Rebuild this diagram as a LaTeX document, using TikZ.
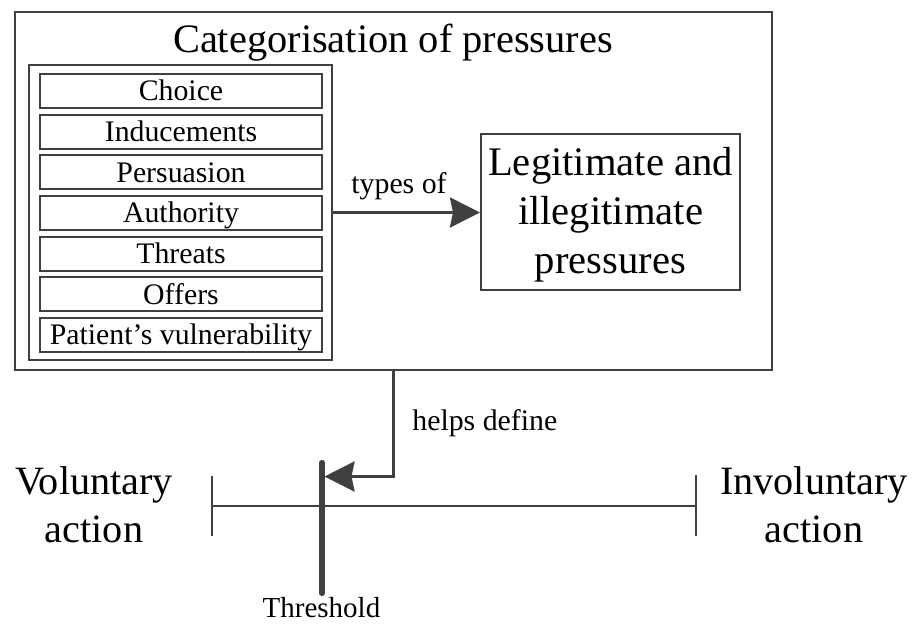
\documentclass[tikz,border=0pt]{standalone}
\usepackage{fontspec}
\setmainfont{Liberation Serif}
\usetikzlibrary{arrows.meta}
\definecolor{linegray}{RGB}{64,64,64}
\tikzset{
  frame/.style={draw=linegray, line width=1pt, inner sep=0pt},
  item/.style={frame, minimum width=141pt, minimum height=17pt,
    text height=11.2pt, text depth=1.35pt,
    font=\fontsize{14.9}{17.9}\selectfont},
  small/.style={inner sep=0pt, font=\fontsize{14.9}{17.9}\selectfont},
  big/.style={inner sep=0pt, align=center, font=\fontsize{20.2}{24}\selectfont},
  conn/.style={draw=linegray, line width=1.5pt,
    -{Stealth[length=15pt, width=15pt, inset=1.5pt]}},
  axis/.style={draw=linegray, line width=1pt}
}
\begin{document}
\begin{tikzpicture}[x=0.5pt, y=-0.5pt]
\useasboundingbox (0,0) rectangle (914,623);

% outer frame and its title
\node[frame, minimum width=378.5pt, minimum height=179pt] (outer) at (393.5,191) {};
\node[big, anchor=base] (title) at (393,52) {Categorisation of pressures};

% list of pressure categories
\node[frame, minimum width=151.5pt, minimum height=147.5pt] (list) at (180.5,212.5) {};
\node[item] (choice) at (181,91) {Choice};
\node[item] (induce) at (181,131.7) {Inducements};
\node[item] (persu)  at (181,172.3) {Persuasion};
\node[item] (auth)   at (181,213) {Authority};
\node[item] (threat) at (181,253.7) {Threats};
\node[item] (offer)  at (181,294.3) {Offers};
\node[item] (vuln)   at (181,335) {Patient’s vulnerability};

% legitimate / illegitimate box (base anchor sits on the last line)
\node[frame, minimum width=129.5pt, minimum height=78pt] (legit) at (610.5,212) {};
\node[big, font=\fontsize{20.3}{24.5}\selectfont, anchor=base] (legtxt) at (610.5,273)
  {Legitimate and\\illegitimate\\pressures};

% "types of" connector
\draw[conn] (list.east) -- (legit.west |- list.east);
\node[small, anchor=base] (typesof) at (399,193) {types of};

% voluntary / involuntary scale
\coordinate (lend) at (212,506);
\coordinate (rend) at (696,506);
\draw[axis] (lend) -- (rend);
\draw[axis] (212,476) -- (212,536);
\draw[axis] (696,475) -- (696,536);

% threshold marker
\coordinate (thtop) at (322,462.5);
\coordinate (thbot) at (322,593.5);
\draw[draw=linegray, line width=2.6pt, line cap=round] (thtop) -- (thbot);
\node[small, font=\fontsize{14.5}{17}\selectfont, anchor=base] (thlabel) at (321.5,617) {Threshold};

% "helps define" connector
\coordinate (thhit) at (324.5,476.5);
\draw[conn] (outer.south) |- (thhit);
\node[small, anchor=base west] (helps) at (412,430) {helps define};

% end labels
\node[big, font=\fontsize{20.1}{23.8}\selectfont, anchor=base] (vol) at (94,542) {Voluntary\\action};
\node[big, font=\fontsize{20.1}{23.8}\selectfont, anchor=base] (invol) at (814,542) {Involuntary\\action};
\end{tikzpicture}
\end{document}
